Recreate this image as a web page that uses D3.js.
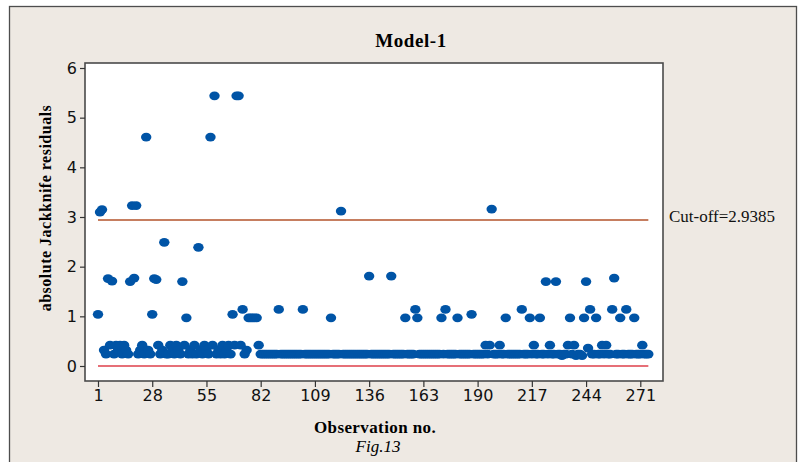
<!DOCTYPE html>
<html>
<head>
<meta charset="utf-8">
<script src="https://cdn.jsdelivr.net/npm/d3@7"></script>
<style>
  body { margin: 0; background: #ffffff; }
  svg { display: block; }
</style>
</head>
<body>
<div id="chart"></div>
<script>
// absolute jackknife residuals, observation 1..275
var residuals = [
  1.04, 3.10, 3.15, 0.32, 0.24, 1.76, 0.42, 1.71, 0.24, 0.42,
  0.32, 0.42, 0.24, 0.42, 0.32, 0.24, 1.70, 3.23, 1.77, 3.23,
  0.24, 0.32, 0.42, 0.24, 4.61, 0.32, 0.24, 1.04, 1.76, 1.74,
  0.42, 0.24, 0.32, 2.49, 0.24, 0.24, 0.42, 0.32, 0.24, 0.42,
  0.32, 0.24, 1.70, 0.42, 0.97, 0.24, 0.32, 0.24, 0.42, 0.24,
  2.39, 0.32, 0.24, 0.42, 0.32, 0.24, 4.61, 0.42, 5.44, 0.24,
  0.32, 0.24, 0.42, 0.24, 0.32, 0.42, 0.24, 1.04, 0.42, 5.44,
  5.44, 0.42, 1.14, 0.24, 0.32, 0.97, 0.97, 0.97, 0.97, 0.97,
  0.42, 0.24, 0.24, 0.24, 0.24, 0.24, 0.24, 0.24, 0.24, 0.24,
  1.14, 0.24, 0.24, 0.24, 0.24, 0.24, 0.24, 0.24, 0.24, 0.24,
  0.24, 0.24, 1.14, 0.24, 0.24, 0.24, 0.24, 0.24, 0.24, 0.24,
  0.24, 0.24, 0.24, 0.24, 0.24, 0.24, 0.97, 0.24, 0.24, 0.24,
  0.24, 3.12, 0.24, 0.24, 0.24, 0.24, 0.24, 0.24, 0.24, 0.24,
  0.24, 0.24, 0.24, 0.24, 0.24, 1.81, 0.24, 0.24, 0.24, 0.24,
  0.24, 0.24, 0.24, 0.24, 0.24, 0.24, 1.81, 0.24, 0.24, 0.24,
  0.24, 0.24, 0.24, 0.97, 0.24, 0.24, 0.24, 0.24, 1.14, 0.97,
  0.24, 0.24, 0.24, 0.24, 0.24, 0.24, 0.24, 0.24, 0.24, 0.24,
  0.24, 0.97, 0.24, 1.14, 0.24, 0.24, 0.24, 0.24, 0.24, 0.97,
  0.24, 0.24, 0.24, 0.24, 0.24, 0.24, 1.04, 0.24, 0.24, 0.24,
  0.24, 0.24, 0.24, 0.42, 0.24, 0.42, 3.16, 0.24, 0.24, 0.24,
  0.42, 0.24, 0.24, 0.97, 0.24, 0.24, 0.24, 0.24, 0.24, 0.24,
  0.24, 1.14, 0.24, 0.24, 0.24, 0.97, 0.24, 0.42, 0.24, 0.24,
  0.97, 0.24, 0.24, 1.70, 0.24, 0.42, 0.24, 0.24, 1.70, 0.24,
  0.24, 0.21, 0.24, 0.24, 0.42, 0.97, 0.24, 0.42, 0.21, 0.24,
  0.24, 0.21, 0.97, 1.70, 0.36, 1.14, 0.24, 0.24, 0.97, 0.24,
  0.24, 0.42, 0.24, 0.42, 0.24, 0.24, 1.14, 1.77, 0.24, 0.24,
  0.97, 0.24, 0.24, 1.14, 0.24, 0.24, 0.24, 0.97, 0.24, 0.24,
  0.24, 0.42, 0.24, 0.24, 0.24
];

var xTicks = [1, 28, 55, 82, 109, 136, 163, 190, 217, 244, 271];
var yTicks = [0, 1, 2, 3, 4, 5, 6];
var cutOff = 2.9385;

var W = 803, H = 462;
var plot = { left: 85, top: 63, right: 663, bottom: 381 };
var serif = '"Liberation Serif", "Times New Roman", serif';

var svg = d3.select('#chart')
  .append('svg')
  .attr('width', W)
  .attr('height', H);

// outer frame
svg.append('rect')
  .attr('x', 9.5)
  .attr('y', 6.5)
  .attr('width', 787)
  .attr('height', 470)
  .attr('fill', '#eee9e3')
  .attr('stroke', '#4d4d4d')
  .attr('stroke-width', 1.3);

// plot background
svg.append('rect')
  .attr('x', plot.left)
  .attr('y', plot.top)
  .attr('width', plot.right - plot.left)
  .attr('height', plot.bottom - plot.top)
  .attr('fill', '#ffffff');

var data = residuals.map(function(v, i){
  return { obs: i + 1, value: v };
});

var xScale = d3.scaleLinear()
  .domain([1, 271])
  .range([98, 640.3]);

var yScale = d3.scaleLinear()
  .domain([0, 6])
  .range([366, 68]);

var first = d3.min(data, function(d){ return d.obs; });
var last = d3.max(data, function(d){ return d.obs; });

// zero reference line
svg.append('line')
  .attr('x1', xScale(first))
  .attr('x2', xScale(last))
  .attr('y1', yScale(0))
  .attr('y2', yScale(0))
  .attr('stroke', '#de3f4a')
  .attr('stroke-width', 1.4);

// cut-off line
svg.append('line')
  .attr('x1', xScale(first))
  .attr('x2', xScale(last))
  .attr('y1', yScale(cutOff))
  .attr('y2', yScale(cutOff))
  .attr('stroke', '#b3532b')
  .attr('stroke-width', 1.6);

// points
svg.append('g')
  .selectAll('ellipse')
  .data(data)
  .enter()
  .append('ellipse')
  .attr('cx', function(d){ return xScale(d.obs); })
  .attr('cy', function(d){ return yScale(d.value); })
  .attr('rx', 5.2)
  .attr('ry', 4.4)
  .attr('fill', '#0054a6');

// plot border
svg.append('rect')
  .attr('x', plot.left)
  .attr('y', plot.top)
  .attr('width', plot.right - plot.left)
  .attr('height', plot.bottom - plot.top)
  .attr('fill', 'none')
  .attr('stroke', '#4a4a4a')
  .attr('stroke-width', 1.6);

// axes
var yAxis = svg.append('g')
  .attr('transform', 'translate(' + plot.left + ',0)')
  .call(d3.axisLeft(yScale).tickValues(yTicks).tickSize(5).tickPadding(3).tickFormat(d3.format('d')));

var xAxis = svg.append('g')
  .attr('transform', 'translate(0,' + plot.bottom + ')')
  .call(d3.axisBottom(xScale).tickValues(xTicks).tickSize(6).tickPadding(3).tickFormat(d3.format('d')));

[yAxis, xAxis].forEach(function(ax){
  ax.select('.domain').remove();
  ax.selectAll('line').attr('stroke', '#333333').attr('stroke-width', 1.2);
  ax.selectAll('text')
    .attr('fill', '#111111')
    .style('font-family', '"DejaVu Sans", Verdana, sans-serif')
    .style('font-size', '16px');
});

// title
svg.append('text')
  .attr('x', 411)
  .attr('y', 47)
  .attr('text-anchor', 'middle')
  .style('font-family', serif)
  .style('font-weight', 'bold')
  .style('font-size', '19px')
  .style('letter-spacing', '0.6px')
  .text('Model-1');

// y label
svg.append('text')
  .attr('transform', 'translate(51,208) rotate(-90)')
  .attr('text-anchor', 'middle')
  .style('font-family', serif)
  .style('font-weight', 'bold')
  .style('font-size', '16px')
  .style('letter-spacing', '0.5px')
  .text('absolute Jackknife residuals');

// x label
svg.append('text')
  .attr('x', 375)
  .attr('y', 433)
  .attr('text-anchor', 'middle')
  .style('font-family', serif)
  .style('font-weight', 'bold')
  .style('font-size', '17px')
  .style('letter-spacing', '0.4px')
  .text('Observation no.');

svg.append('text')
  .attr('x', 378)
  .attr('y', 452)
  .attr('text-anchor', 'middle')
  .style('font-family', serif)
  .style('font-style', 'italic')
  .style('font-size', '17px')
  .text('Fig.13');

// cut-off label
svg.append('text')
  .attr('x', 669)
  .attr('y', 222)
  .style('font-family', serif)
  .style('font-size', '17px')
  .attr('fill', '#111111')
  .text('Cut-off=' + cutOff);
</script>
</body>
</html>
